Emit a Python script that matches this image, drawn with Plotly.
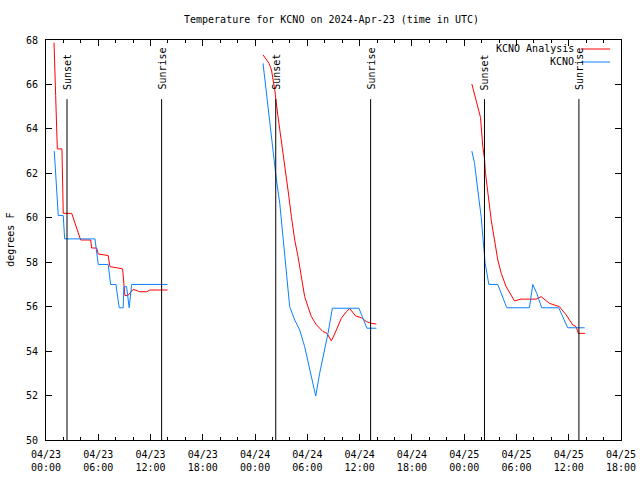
import pandas as pd
import plotly.graph_objects as go

BASE = pd.Timestamp("2024-04-23 00:00")

# hours since 2024-04-23 00:00 UTC, temperature in F
an1_h = [0.92, 1.00, 1.11, 1.23, 1.30, 1.83, 1.92, 1.98, 2.95, 3.98, 5.13, 5.24, 5.81, 6.00, 7.14, 7.34, 8.11, 8.79, 9.06, 9.40, 10.01, 10.78, 11.55, 11.92, 12.30, 13.95]
an1_v = [67.88, 67.1, 65.5, 63.95, 63.1, 63.1, 61.7, 60.2, 60.2, 59.0, 59.0, 58.64, 58.64, 58.37, 58.3, 57.8, 57.75, 57.7, 56.5, 56.5, 56.78, 56.67, 56.67, 56.75, 56.75, 56.75]
an2_h = [24.91, 25.60, 25.88, 26.26, 26.63, 27.02, 27.40, 27.78, 28.17, 28.55, 28.93, 29.32, 29.69, 30.07, 30.46, 31.04, 31.79, 32.25, 32.76, 33.33, 33.90, 34.48, 34.85, 35.54, 36.20, 36.77, 37.34, 37.92]
an2_v = [67.33, 66.95, 66.65, 65.75, 64.55, 63.5, 62.3, 61.25, 60.05, 59.0, 58.25, 57.35, 56.45, 56.0, 55.55, 55.18, 54.88, 54.8, 54.46, 54.95, 55.48, 55.77, 55.92, 55.58, 55.5, 55.33, 55.25, 55.22]
an3_h = [48.88, 49.38, 49.87, 50.14, 50.33, 50.45, 50.71, 51.10, 51.48, 51.86, 52.25, 52.82, 53.77, 54.54, 56.26, 56.83, 57.78, 58.93, 59.70, 60.46, 60.85, 61.11, 61.88]
an3_v = [66.02, 65.3, 64.52, 63.2, 62.67, 62.0, 61.1, 59.9, 59.0, 58.1, 57.5, 56.9, 56.26, 56.34, 56.34, 56.45, 56.15, 56.0, 55.63, 55.18, 55.1, 54.8, 54.8]

ob1_h = [0.95, 1.11, 1.30, 1.41, 1.98, 2.14, 5.62, 5.88, 6.00, 7.14, 7.42, 8.03, 8.40, 8.86, 8.94, 9.25, 9.55, 9.83, 13.95]
ob1_v = [63.0, 62.0, 60.7, 60.1, 60.1, 59.05, 59.05, 58.4, 57.9, 57.9, 57.0, 57.0, 55.95, 55.95, 56.9, 56.9, 55.95, 57.0, 57.0]
ob2_h = [24.91, 25.22, 25.68, 26.06, 26.45, 26.83, 27.21, 27.60, 27.97, 28.55, 29.12, 29.69, 30.27, 30.96, 31.41, 31.99, 32.37, 32.87, 35.92, 36.31, 36.84, 37.92]
ob2_v = [66.95, 65.9, 64.25, 63.05, 61.7, 60.65, 59.0, 57.5, 56.0, 55.4, 54.95, 54.2, 53.15, 51.98, 53.0, 54.05, 54.8, 55.93, 55.93, 55.55, 55.03, 55.03]
ob3_h = [48.88, 49.19, 49.56, 49.95, 50.14, 50.41, 50.83, 51.86, 52.89, 55.49, 55.87, 56.33, 56.90, 58.85, 59.88, 61.83]
ob3_v = [63.0, 62.45, 61.25, 60.05, 59.15, 57.95, 57.0, 57.0, 55.95, 55.95, 57.0, 56.6, 55.95, 55.95, 55.05, 55.05]

sunset_h = [2.41, 26.37, 50.33]
sunrise_h = [13.27, 37.26, 61.17]

FONT = "DejaVu Sans Mono"


def to_t(hours):
    return [BASE + pd.Timedelta(hours=h) for h in hours]


def join(segs):
    xs, ys = [], []
    for h, v in segs:
        xs += to_t(h) + [None]
        ys += v + [None]
    return xs[:-1], ys[:-1]


ax, ay = join([(an1_h, an1_v), (an2_h, an2_v), (an3_h, an3_v)])
ox, oy = join([(ob1_h, ob1_v), (ob2_h, ob2_v), (ob3_h, ob3_v)])

RED = "#ff0000"
BLUE = "#0a80ff"

fig = go.Figure()
fig.add_trace(go.Scatter(x=ax, y=ay, mode="lines", line=dict(color=RED, width=1), name="KCNO Analysis", connectgaps=False))
fig.add_trace(go.Scatter(x=ox, y=oy, mode="lines", line=dict(color=BLUE, width=1), name="KCNO", connectgaps=False))

shapes = []
annotations = []
for label, hours in (("Sunset", sunset_h), ("Sunrise", sunrise_h)):
    for t in to_t(hours):
        shapes.append(dict(type="line", xref="x", yref="y", x0=t, x1=t, y0=50, y1=65.34,
                           line=dict(color="black", width=1)))
        annotations.append(dict(x=t, y=65.66, xref="x", yref="y", text=label, textangle=-90,
                                showarrow=False, xanchor="center", yanchor="bottom",
                                font=dict(family=FONT, size=10, color="black")))

# legend (gnuplot style: text then sample)
for i, (name, col) in enumerate((("KCNO Analysis", RED), ("KCNO", BLUE))):
    yp = 0.9775 - i * 0.0325
    annotations.append(dict(x=0.922, y=yp, xref="paper", yref="paper", text=name, showarrow=False,
                            xanchor="right", yanchor="middle", font=dict(family=FONT, size=10, color="black")))
    shapes.append(dict(type="line", xref="paper", yref="paper", x0=0.930, x1=0.981, y0=yp, y1=yp,
                       line=dict(color=col, width=1)))

annotations.append(dict(x=-0.063, y=0.5, xref="paper", yref="paper", text="degrees F", textangle=-90,
                        showarrow=False, xanchor="center", yanchor="middle",
                        font=dict(family=FONT, size=10, color="black")))

fig.update_layout(
    width=640, height=480,
    margin=dict(l=46, r=19, t=40, b=40),
    paper_bgcolor="white", plot_bgcolor="white",
    showlegend=False,
    title=dict(text="Temperature for KCNO on 2024-Apr-23 (time in UTC)", x=0.518, xanchor="center",
               y=1 - 19 / 480, yanchor="middle", yref="container", automargin=False,
               font=dict(family=FONT, size=10, color="black")),
    shapes=shapes, annotations=annotations,
    font=dict(family=FONT, size=10, color="black"),
)
fig.update_xaxes(
    type="date", range=[BASE, BASE + pd.Timedelta(hours=66)], automargin=False,
    tick0=BASE, dtick=6 * 3600 * 1000, tickformat="%m/%d<br>%H:%M",
    ticks="inside", ticklen=6, tickcolor="black", showgrid=False, zeroline=False,
    showline=True, linecolor="black", linewidth=1, mirror="allticks",
    ticklabelstandoff=5,
    minor=dict(ticks="inside", ticklen=3, dtick=2 * 3600 * 1000, tick0=BASE, tickcolor="black", showgrid=False),
    tickfont=dict(family=FONT, size=10, color="black"),
)
fig.update_yaxes(
    range=[50, 68], dtick=2, tick0=50, automargin=False,
    ticks="inside", ticklen=6, tickcolor="black", showgrid=False, zeroline=False,
    showline=True, linecolor="black", linewidth=1, mirror="allticks",
    ticklabelstandoff=5,
    tickfont=dict(family=FONT, size=10, color="black"),
)

fig.write_html("out.html", config={"displayModeBar": False},
               post_script="document.body.style.margin='0';")
